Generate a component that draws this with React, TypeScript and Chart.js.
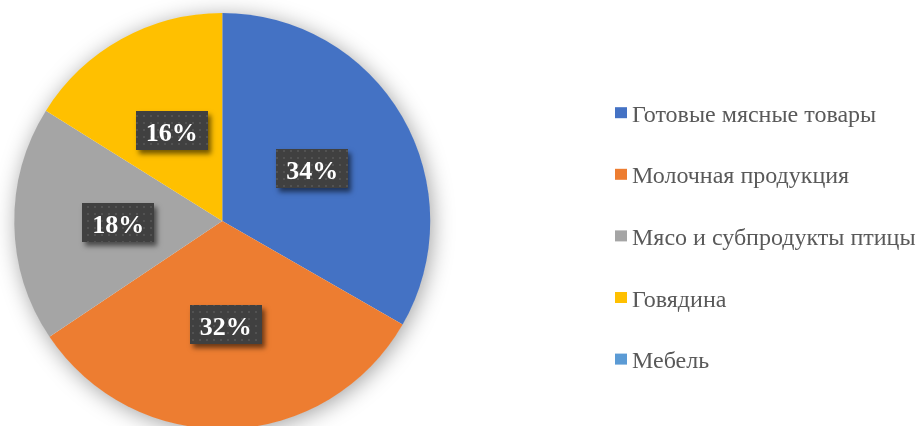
import React, { useEffect, useRef } from 'react';
import { Chart, registerables } from 'chart.js';

Chart.register(...registerables);

const categories = ['Готовые мясные товары', 'Молочная продукция', 'Мясо и субпродукты птицы', 'Говядина', 'Мебель'];
const shares = [33.3, 32.3, 18.3, 16.1, 0];
const percentLabels = ['34%', '32%', '18%', '16%', ''];
const colors = ['#4472C4', '#ED7D31', '#A5A5A5', '#FFC000', '#5B9BD5'];

const FONT = '"Liberation Serif", serif';
const W = 921;
const H = 450;

const pieShadow = {
  id: 'pieShadow',
  beforeDatasetsDraw(chart: any) {
    const meta = chart.getDatasetMeta(0);
    const arc = meta.data[0];
    if (!arc) return;
    const { x, y, outerRadius } = arc.getProps(['x', 'y', 'outerRadius'], true);
    const ctx = chart.ctx;
    ctx.save();
    ctx.shadowColor = 'rgba(0,0,0,0.38)';
    ctx.shadowBlur = 22;
    ctx.shadowOffsetX = 2;
    ctx.shadowOffsetY = 3;
    ctx.beginPath();
    ctx.arc(x, y, outerRadius - 0.5, 0, Math.PI * 2);
    ctx.fillStyle = '#ffffff';
    ctx.fill();
    ctx.restore();
  },
};

let patternCache: CanvasPattern | null = null;
function getPattern(ctx: CanvasRenderingContext2D) {
  if (patternCache) return patternCache;
  const pc = document.createElement('canvas');
  pc.width = 7;
  pc.height = 7;
  const p = pc.getContext('2d')!;
  p.fillStyle = '#404040';
  p.fillRect(0, 0, 7, 7);
  p.fillStyle = '#525252';
  p.fillRect(3, 3, 2, 2);
  patternCache = ctx.createPattern(pc, 'repeat');
  return patternCache;
}

const dataLabels = {
  id: 'dataLabels',
  afterDatasetsDraw(chart: any) {
    const ctx = chart.ctx as CanvasRenderingContext2D;
    const meta = chart.getDatasetMeta(0);
    meta.data.forEach((arc: any, i: number) => {
      const text = percentLabels[i];
      if (!text || !shares[i]) return;
      const pos = arc.tooltipPosition(true);
      ctx.save();
      ctx.font = `bold 26px ${FONT}`;
      const tw = ctx.measureText(text).width;
      const bw = Math.round(tw + 20);
      const bh = 39;
      const bx = Math.round(pos.x - bw / 2);
      const by = Math.round(pos.y - bh / 2);
      ctx.shadowColor = 'rgba(0,0,0,0.55)';
      ctx.shadowBlur = 5;
      ctx.shadowOffsetX = 3;
      ctx.shadowOffsetY = 4;
      ctx.fillStyle = '#404040';
      ctx.fillRect(bx, by, bw, bh);
      ctx.shadowColor = 'transparent';
      ctx.shadowBlur = 0;
      ctx.shadowOffsetX = 0;
      ctx.shadowOffsetY = 0;
      const pat = getPattern(ctx);
      if (pat) {
        ctx.fillStyle = pat;
        ctx.fillRect(bx, by, bw, bh);
      }
      ctx.fillStyle = '#ffffff';
      ctx.textAlign = 'center';
      ctx.textBaseline = 'alphabetic';
      ctx.fillText(text, pos.x, by + bh / 2 + 10);
      ctx.restore();
    });
  },
};

const sideLegend = {
  id: 'sideLegend',
  afterDraw(chart: any) {
    const ctx = chart.ctx as CanvasRenderingContext2D;
    const labels: string[] = chart.data.labels;
    const bg: string[] = chart.data.datasets[0].backgroundColor;
    ctx.save();
    ctx.font = `24px ${FONT}`;
    ctx.textAlign = 'left';
    ctx.textBaseline = 'alphabetic';
    labels.forEach((lab, i) => {
      const baseline = 121.7 + i * 61.6;
      ctx.fillStyle = bg[i];
      ctx.fillRect(615, baseline - 14.5, 12, 11);
      ctx.fillStyle = '#595959';
      ctx.fillText(lab, 632, baseline);
    });
    ctx.restore();
  },
};

export default function App() {
  const ref = useRef<HTMLCanvasElement>(null);
  useEffect(() => {
    if (!ref.current) return;
    const chart = new Chart(ref.current, {
      type: 'pie',
      data: {
        labels: categories,
        datasets: [
          {
            data: shares,
            backgroundColor: colors,
            borderWidth: 0,
          },
        ],
      },
      options: {
        responsive: false,
        animation: false,
        events: [],
        layout: { padding: { left: 14, top: 13, right: W - 430.5, bottom: H - 429 } },
        plugins: {
          legend: { display: false },
          tooltip: { enabled: false },
        },
      },
      plugins: [pieShadow, dataLabels, sideLegend],
    });
    return () => chart.destroy();
  }, []);
  return (
    <div style={{ position: 'fixed', left: 0, top: 0, width: W, height: H, background: '#fff' }}>
      <canvas ref={ref} width={W} height={H} style={{ width: W, height: H, display: 'block' }} />
    </div>
  );
}
